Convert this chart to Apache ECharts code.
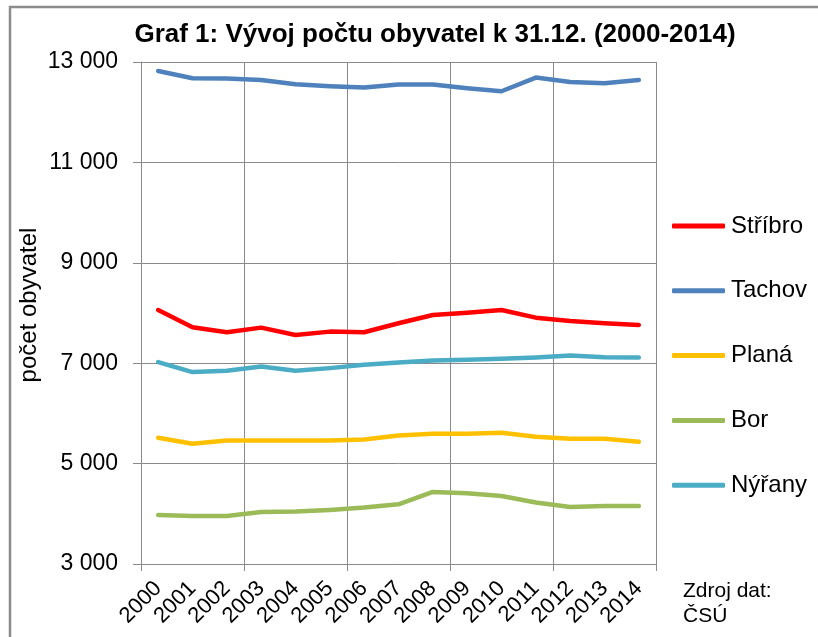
<!DOCTYPE html>
<html>
<head>
<meta charset="utf-8">
<title>Graf 1</title>
<script src="https://cdn.jsdelivr.net/npm/echarts@6/dist/echarts.min.js"></script>
<style>
  html, body { margin: 0; padding: 0; background: #fff; }
  #main { width: 818px; height: 637px; }
</style>
</head>
<body>
<div id="main"></div>
<script>
// roky a počty obyvatel
const years = ['2000', '2001', '2002', '2003', '2004', '2005', '2006', '2007',
  '2008', '2009', '2010', '2011', '2012', '2013', '2014'];
const stribro = [8060, 7716, 7617, 7709, 7563, 7629, 7617, 7796, 7960, 8006, 8060, 7907, 7841, 7796, 7762];
const tachov = [12821, 12676, 12672, 12643, 12557, 12517, 12490, 12550, 12550, 12478, 12418, 12690, 12603, 12577, 12643];
const plana = [5514, 5395, 5460, 5460, 5460, 5460, 5480, 5560, 5593, 5593, 5613, 5533, 5493, 5493, 5435];
const bor = [3978, 3958, 3958, 4038, 4045, 4078, 4125, 4190, 4435, 4409, 4355, 4224, 4137, 4157, 4157];
const nyrany = [7022, 6823, 6849, 6935, 6849, 6902, 6968, 7014, 7054, 7067, 7087, 7113, 7153, 7120, 7113];

const font = '"Liberation Sans", Arial, sans-serif';
const gridColor = '#8a8a8a';

const chartDom = document.getElementById('main');
const myChart = echarts.init(chartDom);

const mkSeries = (name, data, color) => ({
    name: name,
    type: 'line',
    data: data,
    symbol: 'none',
    lineStyle: { color: color, width: 4.5, cap: 'round', join: 'round' },
    itemStyle: { color: color },
    animation: false
});

const option = {
    backgroundColor: '#fff',
    title: {
        text: 'Graf 1: Vývoj počtu obyvatel k 31.12. (2000-2014)',
        left: 430,
        textAlign: 'center',
        top: 17,
        textStyle: { fontFamily: font, fontSize: 26, fontWeight: 'bold', color: '#000' }
    },
    legend: {
        orient: 'vertical',
        left: 672,
        top: 214,
        padding: 0,
        itemWidth: 53,
        itemHeight: 5,
        itemGap: 40.8,
        icon: 'roundRect',
        textStyle: { fontFamily: font, fontSize: 24, color: '#000', lineHeight: 24, padding: [0, 0, 0, 1] },
        data: ['Stříbro', 'Tachov', 'Planá', 'Bor', 'Nýřany']
    },
    grid: { left: 141, right: 162, top: 62, bottom: 73 },
    xAxis: [
        {
            type: 'category',
            data: years,
            boundaryGap: true,
            axisLine: { lineStyle: { color: gridColor, width: 1 } },
            axisTick: { show: false },
            splitLine: { show: false },
            axisLabel: {
                interval: 0,
                rotate: 45,
                margin: 21,
                fontFamily: font,
                fontSize: 22,
                color: '#000'
            }
        },
        {
            // pomocná osa jen pro svislou mřížku po třech letech
            type: 'value',
            position: 'bottom',
            min: 0,
            max: 15,
            interval: 3,
            axisLine: { show: false },
            axisLabel: { show: false },
            axisTick: { show: true, length: 7, lineStyle: { color: gridColor } },
            splitLine: { show: true, lineStyle: { color: gridColor, width: 1 } }
        }
    ],
    yAxis: {
        type: 'value',
        min: 3000,
        max: 13000,
        interval: 2000,
        axisLine: { show: true, lineStyle: { color: gridColor, width: 1 } },
        axisTick: { show: true, length: 8, lineStyle: { color: gridColor } },
        splitLine: { show: true, lineStyle: { color: gridColor, width: 1 } },
        axisLabel: {
            margin: 23,
            fontFamily: font,
            fontSize: 23,
            color: '#000',
            formatter: v => String(v).replace(/\B(?=(\d{3})+(?!\d))/g, ' ')
        }
    },
    graphic: [
        {
            type: 'rect',
            shape: { x: 10, y: 7, width: 830, height: 660 },
            style: { fill: 'none', stroke: '#8c8c8c', lineWidth: 2.5 },
            silent: true
        },
        {
            type: 'text',
            x: 29,
            y: 305,
            rotation: Math.PI / 2,
            style: {
                text: 'počet obyvatel',
                fontFamily: font,
                fontSize: 24,
                fill: '#000',
                align: 'center',
                verticalAlign: 'middle'
            }
        },
        {
            type: 'text',
            left: 683,
            top: 579,
            style: {
                text: 'Zdroj dat:\nČSÚ',
                fontFamily: font,
                fontSize: 21,
                lineHeight: 25,
                fill: '#000'
            }
        }
    ],
    series: [
        mkSeries('Bor', bor, '#9BBB59'),
        mkSeries('Planá', plana, '#FFC000'),
        mkSeries('Nýřany', nyrany, '#4BACC6'),
        mkSeries('Stříbro', stribro, '#FF0000'),
        mkSeries('Tachov', tachov, '#4F81BD')
    ]
};

myChart.setOption(option);
</script>
</body>
</html>
